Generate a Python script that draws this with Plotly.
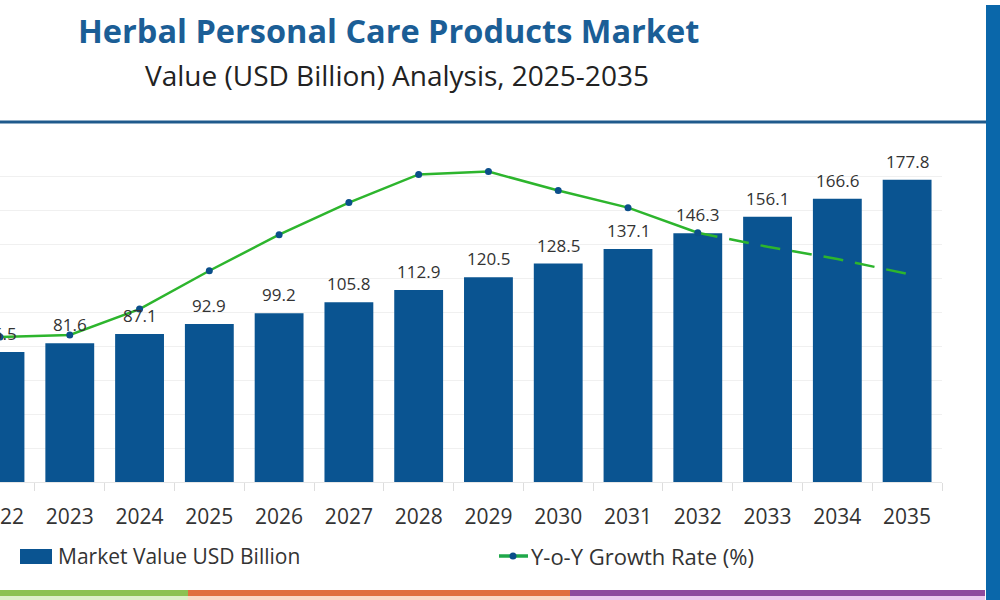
import plotly.graph_objects as go

years = [2022, 2023, 2024, 2025, 2026, 2027, 2028, 2029, 2030, 2031, 2032, 2033, 2034, 2035]
market_value = [76.5, 81.6, 87.1, 92.9, 99.2, 105.8, 112.9, 120.5, 128.5, 137.1, 146.3, 156.1, 166.6, 177.8]
value_labels = ["76.5", "81.6", "87.1", "92.9", "99.2", "105.8", "112.9", "120.5", "128.5", "137.1",
                "146.3", "156.1", "166.6", "177.8"]
# Y-o-Y growth rate (%) (secondary, hidden axis)
growth_years_actual = [2022, 2023, 2024, 2025, 2026, 2027, 2028, 2029, 2030, 2031, 2032]
growth_actual = [5.15, 5.22, 6.14, 7.50, 8.78, 9.92, 10.92, 11.02, 10.35, 9.74, 8.85]
growth_years_forecast = [2032, 2033, 2034, 2035]
growth_forecast = [8.85, 8.35, 7.92, 7.39]

title_text = "Herbal Personal Care Products Market"
subtitle_text = "Value (USD Billion) Analysis, 2025-2035"
legend_bar = "Market Value USD Billion"
legend_line = "Y-o-Y Growth Rate (%)"

BAR = "#0A5491"
GREEN = "#2DB52D"
MARK = "#0B4F8A"
TXT = "#333333"
FONT = "Open Sans"

W, H = 1000, 600
ML, MR, MT, MB = 0, 58, 144, 118
PW = W - ML - MR
PH = H - MT - MB
PX_PER_UNIT = 1.70


def px(x):
    return (x - ML) / PW


def py(y):
    return (H - MB - y) / PH


fig = go.Figure()
fig.add_trace(go.Bar(
    x=years, y=market_value, width=0.7, marker=dict(color=BAR, line=dict(width=0)),
    showlegend=False, hoverinfo="skip"))
fig.add_trace(go.Scatter(
    x=growth_years_forecast, y=growth_forecast, yaxis="y2", mode="lines",
    line=dict(color=GREEN, width=2.5, dash="20px,12px"), showlegend=False, hoverinfo="skip"))
fig.add_trace(go.Scatter(
    x=growth_years_actual, y=growth_actual, yaxis="y2", mode="lines+markers",
    line=dict(color=GREEN, width=2.5), marker=dict(color=MARK, size=7),
    showlegend=False, hoverinfo="skip"))

shapes = []
# separator line
shapes.append(dict(type="line", xref="paper", yref="paper", x0=px(0), x1=px(986), y0=py(122), y1=py(122),
                   line=dict(color="#1F5A8C", width=3)))
# right blue band
shapes.append(dict(type="rect", xref="paper", yref="paper", x0=px(986), x1=px(1002), y0=py(5), y1=py(602),
                   fillcolor="#0A67AA", line=dict(width=0)))
# bottom stripes
for x0, x1, c, c2 in [(0, 188, "#8CC152", "#DDEFC9"), (188, 570, "#E0703F", "#FAD9C6"),
                      (570, 985, "#8E4A9E", "#EBC8EE")]:
    shapes.append(dict(type="rect", xref="paper", yref="paper", x0=px(x0), x1=px(x1), y0=py(596), y1=py(590),
                       fillcolor=c, line=dict(width=0)))
    shapes.append(dict(type="rect", xref="paper", yref="paper", x0=px(x0), x1=px(x1), y0=py(601), y1=py(596),
                       fillcolor=c2, line=dict(width=0)))
# legend symbols
shapes.append(dict(type="rect", xref="paper", yref="paper", x0=px(20), x1=px(52), y0=py(564), y1=py(549),
                   fillcolor=BAR, line=dict(width=0)))
shapes.append(dict(type="line", xref="paper", yref="paper", x0=px(499), x1=px(528), y0=py(556), y1=py(556),
                   line=dict(color="#1FA84A", width=3.5)))
shapes.append(dict(type="circle", xref="paper", yref="paper", x0=px(509.5), x1=px(516.5), y0=py(559.5),
                   y1=py(552.5), fillcolor=MARK, line=dict(width=0)))

annotations = [
    dict(text="<b>" + title_text + "</b>", xref="paper", yref="paper", x=px(388), y=py(30),
         xanchor="center", yanchor="middle", showarrow=False,
         font=dict(family=FONT, size=32.5, color="#1B5E96")),
    dict(text=subtitle_text, xref="paper", yref="paper", x=px(397), y=py(75),
         xanchor="center", yanchor="middle", showarrow=False,
         font=dict(family=FONT, size=28, color="#222222")),
    dict(text=legend_bar, xref="paper", yref="paper", x=px(56), y=py(556),
         xanchor="left", yanchor="middle", showarrow=False,
         font=dict(family=FONT, size=21, color=TXT)),
    dict(text=legend_line, xref="paper", yref="paper", x=px(529), y=py(556),
         xanchor="left", yanchor="middle", showarrow=False,
         font=dict(family=FONT, size=22, color=TXT)),
]
# value labels above bars
for yr, v, lab in zip(years, market_value, value_labels):
    annotations.append(dict(text=lab, x=yr, y=v, xref="x", yref="y", xanchor="center", yanchor="bottom",
                            showarrow=False, yshift=5,
                            font=dict(family=FONT, size=17, color=TXT)))

fig.update_layout(
    width=W, height=H, margin=dict(l=ML, r=MR, t=MT, b=MB, autoexpand=False),
    paper_bgcolor="white", plot_bgcolor="white", showlegend=False,
    shapes=shapes, annotations=annotations,
    xaxis=dict(range=[2022.0, 2035.5], tickmode="array", tickvals=years, ticktext=[str(y) for y in years],
               ticks="", showgrid=False, zeroline=False, showline=True, linecolor="#E6E6E6", linewidth=1,
               tickfont=dict(family=FONT, size=21, color=TXT), ticklabelstandoff=16,
               ticklabeloverflow="allow", automargin=False,
               minor=dict(tickvals=[y + 0.5 for y in years], ticks="outside", ticklen=8,
                          tickcolor="#DDDDDD", showgrid=False)),
    yaxis=dict(range=[0, PH / PX_PER_UNIT], showticklabels=False, ticks="", tick0=0, dtick=20,
               showgrid=True, gridcolor="#F0F0F0", gridwidth=1, zeroline=False, showline=False,
               automargin=False),
    yaxis2=dict(range=[0, 12], overlaying="y", side="right", showticklabels=False, showgrid=False,
                zeroline=False, showline=False, automargin=False),
    bargap=0.3,
)

fig.write_html("out.html", config={"displayModeBar": False},
               post_script="document.body.style.margin='0';document.body.style.overflow='hidden';"
                           "document.documentElement.style.overflow='hidden';")
